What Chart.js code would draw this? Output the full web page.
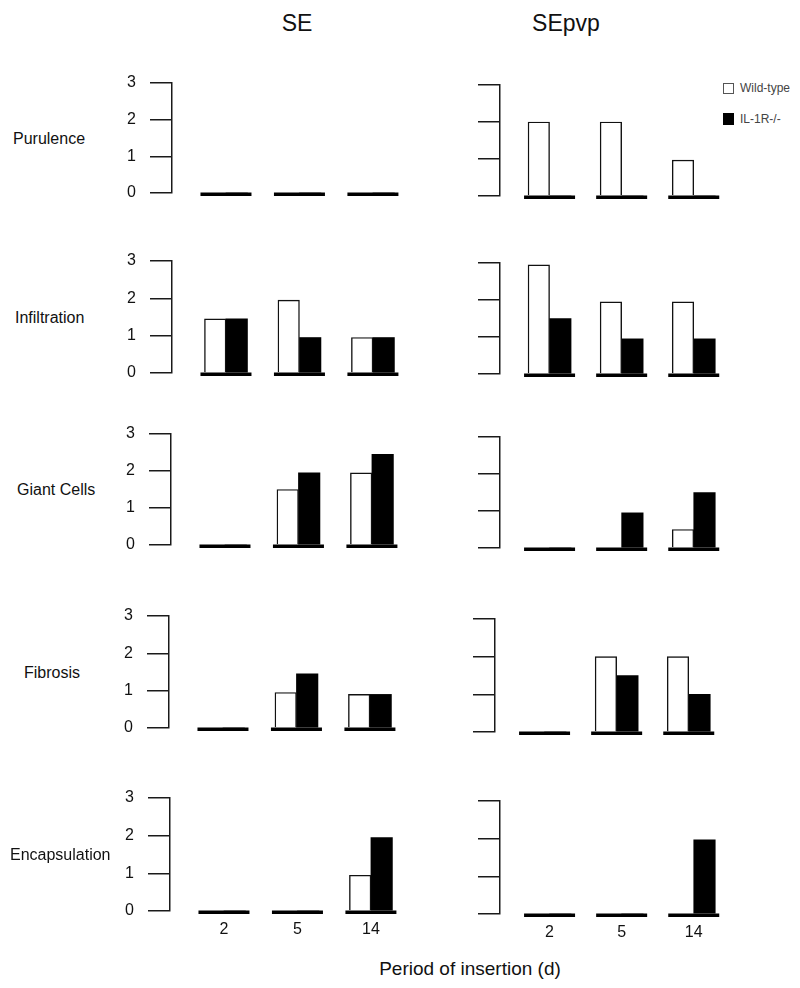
<!DOCTYPE html>
<html>
<head>
<meta charset="utf-8">
<script src="https://cdn.jsdelivr.net/npm/chart.js@4.4.1/dist/chart.umd.min.js"></script>
<style>
  body { margin: 0; background: #fff; }
  #page { position: relative; width: 800px; height: 988px; overflow: hidden; font-family: "Liberation Sans", Arial, sans-serif; color: #111; }
  #page canvas { position: absolute; }
  .txt { position: absolute; white-space: nowrap; line-height: 18px; font-size: 16px; }
  .title { position: absolute; font-size: 23px; line-height: 23px; transform: translateX(-50%); white-space: nowrap; }
  .key { position: absolute; width: 9px; height: 9px; border: 1px solid #555; }
  .keytxt { position: absolute; font-size: 12px; line-height: 12px; color: #444; }
</style>
</head>
<body>
<div id="page">
  <div class="title" style="left:297px; top:12px;">SE</div>
  <div class="title" style="left:566px; top:12px;">SEpvp</div>

  <div class="key" style="left:723px; top:83px; background:#fff;"></div>
  <div class="keytxt" style="left:740px; top:82px;">Wild-type</div>
  <div class="key" style="left:723px; top:113px; height:10px; background:#000; border-color:#000;"></div>
  <div class="keytxt" style="left:740px; top:113px;">IL-1R-/-</div>

  <div class="title" style="left:470px; top:959px; font-size:19px; line-height:20px;">Period of insertion (d)</div>
</div>

<script>
// days after insertion (x categories)
const days = ['2', '5', '14'];
const rowNames = ['Purulence', 'Infiltration', 'Giant Cells', 'Fibrosis', 'Encapsulation'];

// SE  - one row per measure, values for days 2, 5, 14
const seWildType = [[0, 0, 0], [1.45, 1.95, 0.95], [0, 1.5, 1.95], [0, 0.95, 0.9], [0, 0, 0.95]];
const seKnockout = [[0, 0, 0], [1.45, 0.95, 0.95], [0, 1.95, 2.45], [0, 1.45, 0.9], [0, 0, 1.95]];

// SEpvp
const pvpWildType = [[2, 2, 0.97], [2.95, 1.95, 1.95], [0, 0, 0.5], [0, 2, 2], [0, 0, 0]];
const pvpKnockout = [[0, 0, 0], [1.5, 0.95, 0.95], [0, 0.95, 1.5], [0, 1.5, 1], [0, 0, 1.97]];

const yTicks = [0, 1, 2, 3];

// page layout of the panels (the scan is slightly skewed)
const leftAxisX = [172, 172, 171, 169, 170];
const leftTop = [83, 261, 434, 616, 798];
const leftZero = [193, 373, 545, 728, 911];
const rightAxisX = [500, 500, 500, 495, 500];
const rightTop = [85, 263, 437, 619, 801];
const rightZero = [196, 374, 548, 732, 914];
const labelLeft = [13, 15, 17, 24, 10];

Chart.defaults.font.family = '"Liberation Sans", Arial, sans-serif';
Chart.defaults.color = '#111';

const baseSegments = {
  id: 'baseSegments',
  afterDatasetsDraw(chart) {
    const ctx = chart.ctx;
    const x = chart.scales.x;
    const y0 = chart.scales.y.getPixelForValue(0);
    ctx.save();
    ctx.fillStyle = '#000';
    days.forEach((d, i) => {
      const cx = x.getPixelForValue(i);
      ctx.fillRect(cx - 25.5, y0 - 0.5, 51, 3.5);
    });
    ctx.restore();
  }
};

// no extra room for tick labels, the layout padding below is enough
function noScalePadding(s) {
  s.paddingTop = 0;
  s.paddingBottom = 0;
  s.paddingLeft = 0;
  s.paddingRight = 0;
}

function makePanel(wild, ko, axisX, top, zero, spacing, firstGap, withLabels, showDays) {
  const padTop = 14, padBottom = 14, padSide = 5;
  const axisW = withLabels ? 70 : 30;
  const daysH = showDays ? 30 : 0;
  const xMin = -firstGap / spacing;
  const xMax = 2.6;
  const plotW = Math.round((xMax - xMin) * spacing);

  const canvas = document.createElement('canvas');
  canvas.width = padSide + axisW + plotW + padSide;
  canvas.height = padTop + (zero - top) + daysH + padBottom;
  canvas.style.left = (axisX - axisW - padSide) + 'px';
  canvas.style.top = (top - padTop) + 'px';
  document.getElementById('page').appendChild(canvas);

  new Chart(canvas, {
    type: 'bar',
    data: {
      datasets: [
        {
          label: 'Wild-type',
          data: wild.map((v, i) => ({ x: i, y: v })),
          backgroundColor: '#fff',
          borderColor: '#111',
          borderWidth: 1.4,
          barThickness: 21.5
        },
        {
          label: 'IL-1R-/-',
          data: ko.map((v, i) => ({ x: i, y: v })),
          backgroundColor: '#000',
          borderColor: '#000',
          borderWidth: 0,
          barThickness: 21.5
        }
      ]
    },
    options: {
      responsive: false,
      animation: false,
      layout: { padding: { top: padTop, bottom: padBottom, left: padSide, right: padSide } },
      plugins: { legend: { display: false }, tooltip: { enabled: false } },
      scales: {
        x: {
          type: 'linear',
          min: xMin,
          max: xMax,
          offset: false,
          display: showDays,
          grid: { display: false, drawTicks: false, offset: false },
          border: { display: false },
          afterBuildTicks: s => { s.ticks = days.map((d, i) => ({ value: i })); },
          afterFit: s => { s.height = daysH; noScalePadding(s); },
          ticks: {
            callback: v => days[v],
            padding: 9,
            maxRotation: 0,
            autoSkip: false,
            color: '#111',
            font: { size: 16 }
          }
        },
        y: {
          min: 0,
          max: 3,
          afterBuildTicks: s => { s.ticks = yTicks.map(v => ({ value: v })); },
          afterFit: s => { s.width = axisW; noScalePadding(s); },
          ticks: { display: withLabels, padding: 14, color: '#111', font: { size: 16 } },
          grid: { drawOnChartArea: false, drawTicks: true, tickLength: 22, color: '#1a1a1a', lineWidth: 1.5 },
          border: { display: true, color: '#1a1a1a', width: 1.5 }
        }
      }
    },
    plugins: [baseSegments]
  });
}

rowNames.forEach((name, r) => {
  const last = r === rowNames.length - 1;
  makePanel(seWildType[r], seKnockout[r], leftAxisX[r], leftTop[r], leftZero[r], 73.5, 54, true, last);
  makePanel(pvpWildType[r], pvpKnockout[r], rightAxisX[r], rightTop[r], rightZero[r], 72, 49.5, false, last);

  const lbl = document.createElement('div');
  lbl.className = 'txt';
  lbl.textContent = name;
  lbl.style.left = labelLeft[r] + 'px';
  lbl.style.top = ((leftTop[r] + leftZero[r]) / 2 - 8.5) + 'px';
  document.getElementById('page').appendChild(lbl);
});
</script>
</body>
</html>
